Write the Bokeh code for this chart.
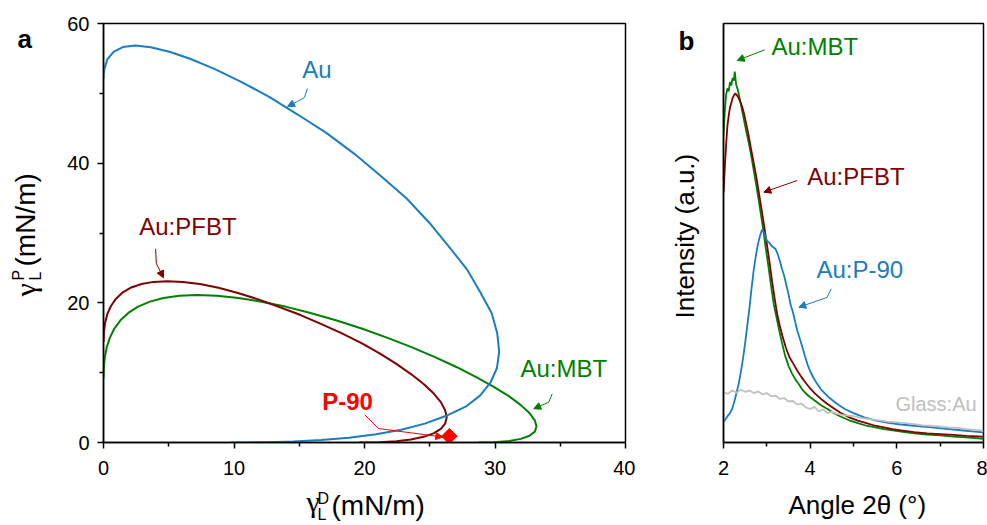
import numpy as np
from bokeh.plotting import figure
from bokeh.models import Range1d, FixedTicker, Label, Arrow, NormalHead
from bokeh.layouts import row, column
from bokeh.core.properties import value
from bokeh.embed import file_html
from bokeh.resources import INLINE

# ---------------- Panel a : wetting envelopes ----------------
au_x = [9.73, 11.18, 12.42, 14.55, 16.69, 18.82, 20.88, 22.83, 24.62, 26.22, 27.75, 28.85,
        29.65, 30.15, 30.32, 30.17, 29.75, 28.85, 27.85, 26.45, 25.0, 23.25, 21.3, 19.25,
        17.1, 14.85, 12.7, 10.55, 8.5, 6.63, 5.05, 3.62, 2.43, 1.48, 0.77, 0.29, 0.046,
        0.007, 0.0]
au_y = [0.0, 0.01, 0.04, 0.15, 0.36, 0.69, 1.17, 1.83, 2.70, 3.79, 5.13, 6.71,
        8.56, 10.67, 13.02, 15.65, 18.5, 21.6, 24.8, 28.1, 31.4, 34.9, 38.1, 41.3,
        44.3, 47.0, 49.5, 51.65, 53.5, 54.95, 55.95, 56.6, 56.85, 56.63, 55.95, 54.85, 53.33,
        52.6, 52.1]

pfbt_x = [19.59, 21.17, 22.44, 23.56, 24.53, 25.29, 25.85, 26.18, 26.30, 26.18, 25.85, 25.29,
          24.53, 23.56, 22.44, 21.16, 19.77, 18.27, 16.70, 15.10, 13.47, 11.87, 10.30, 8.81,
          7.39, 6.09, 4.90, 3.84, 2.91, 2.13, 1.48, 0.96, 0.57, 0.29, 0.115, 0.023, 0.0]
pfbt_y = [0.0, 0.05, 0.19, 0.44, 0.81, 1.31, 1.94, 2.70, 3.60, 4.63, 5.78, 7.04,
          8.38, 9.80, 11.26, 12.75, 14.22, 15.62, 16.95, 18.25, 19.4, 20.5, 21.4, 22.15,
          22.7, 23.0, 23.1, 23.0, 22.7, 22.2, 21.5, 20.6, 19.55, 18.37, 17.06, 15.67, 14.40]

mbt_x = [28.74, 29.94, 31.09, 31.98, 32.64, 33.05, 33.18, 33.05, 32.64, 31.98, 31.09, 29.94,
         28.60, 27.08, 25.40, 23.60, 21.72, 19.78, 17.81, 15.86, 13.94, 12.09, 10.35, 8.69,
         7.19, 5.82, 4.60, 3.55, 2.65, 1.90, 1.30, 0.83, 0.49, 0.25, 0.103, 0.025, 0.0]
mbt_y = [0.0, 0.05, 0.21, 0.52, 0.96, 1.56, 2.30, 3.18, 4.21, 5.35, 6.60, 7.94,
         9.34, 10.78, 12.23, 13.65, 15.02, 16.32, 17.50, 18.55, 19.46, 20.17, 20.70, 21.02,
         21.13, 21.02, 20.70, 20.17, 19.46, 18.55, 17.50, 16.32, 15.02, 13.65, 12.23, 10.78, 9.20]

p90_x = [26.5]
p90_y = [0.9]

a_xticks = [0, 10, 20, 30, 40]
a_xminor = [5, 15, 25, 35]
a_yticks = [0, 20, 40, 60]
a_yminor = [10, 30, 50]

# ---------------- Panel b : XRD ----------------
mbt2_x = [2.00, 2.03, 2.06, 2.09, 2.12, 2.15, 2.18, 2.21, 2.24, 2.26, 2.29, 2.33, 2.38, 2.44,
          2.50, 2.56, 2.62, 2.68, 2.74, 2.80, 2.86, 2.92, 2.98, 3.04, 3.10, 3.16, 3.22, 3.28,
          3.35, 3.42, 3.50, 3.58, 3.66, 3.74, 3.82, 3.90, 4.00, 4.12, 4.25, 4.40, 4.55, 4.70,
          4.90, 5.10, 5.30, 5.50, 5.70, 5.90, 6.10, 6.40, 6.70, 7.00, 7.30, 7.60, 8.00]
mbt2_y = [73.3, 79.0, 83.0, 84.5, 83.8, 86.0, 85.2, 87.0, 86.4, 88.5, 85.5, 84.2, 81.8, 78.6,
          75.5, 72.6, 69.6, 66.0, 62.4, 58.6, 54.6, 50.6, 46.0, 41.8, 37.2, 33.0, 30.0, 27.0,
          23.8, 20.8, 18.3, 16.5, 15.0, 13.9, 12.6, 11.7, 10.8, 9.9, 8.9, 8.0, 7.0, 6.2,
          5.3, 4.6, 4.0, 3.6, 3.2, 2.9, 2.6, 2.2, 1.9, 1.7, 1.4, 1.2, 0.9]

pfbt2_x = [2.00, 2.03, 2.06, 2.09, 2.12, 2.15, 2.18, 2.21, 2.24, 2.27, 2.30, 2.34, 2.38, 2.43,
           2.48, 2.53, 2.58, 2.64, 2.70, 2.76, 2.82, 2.88, 2.94, 3.00, 3.06, 3.12, 3.18, 3.24,
           3.30, 3.36, 3.44, 3.52, 3.60, 3.70, 3.80, 3.90, 4.00, 4.12, 4.25, 4.40, 4.55, 4.70,
           4.90, 5.10, 5.30, 5.50, 5.70, 5.90, 6.10, 6.40, 6.70, 7.00, 7.30, 7.60, 8.00]
pfbt2_y = [59.7, 65.5, 71.0, 75.5, 78.0, 80.0, 81.0, 82.2, 82.8, 83.3, 83.0, 82.4, 81.5, 80.2,
           78.2, 75.8, 73.3, 69.8, 66.6, 63.2, 59.4, 55.6, 51.6, 47.4, 43.2, 38.6, 34.4, 30.6,
           27.8, 25.4, 22.6, 20.4, 19.0, 17.2, 15.6, 14.2, 12.9, 11.6, 10.4, 9.2, 8.1, 7.1,
           6.0, 5.2, 4.6, 4.0, 3.6, 3.2, 2.9, 2.5, 2.2, 2.0, 1.8, 1.6, 1.4]

p902_x = [2.00, 2.05, 2.10, 2.15, 2.20, 2.25, 2.30, 2.35, 2.40, 2.45, 2.50, 2.55, 2.60, 2.65,
          2.70, 2.75, 2.80, 2.85, 2.89, 2.93, 2.97, 3.01, 3.05, 3.10, 3.15, 3.20, 3.25, 3.30,
          3.35, 3.40, 3.45, 3.50, 3.55, 3.60, 3.65, 3.70, 3.76, 3.82, 3.88, 3.94, 4.00, 4.08,
          4.16, 4.25, 4.35, 4.45, 4.55, 4.65, 4.80, 5.00, 5.25, 5.50, 5.80, 6.10, 6.40, 6.80,
          7.20, 7.60, 8.00]
p902_y = [4.9, 5.6, 6.4, 7.0, 8.0, 9.8, 11.8, 14.0, 16.8, 20.0, 23.8, 28.0, 32.2, 37.0,
          41.4, 44.8, 47.6, 49.6, 50.8, 50.2, 49.0, 48.0, 47.8, 47.0, 46.6, 46.2, 45.0, 43.4,
          41.4, 39.8, 37.6, 35.4, 32.8, 31.2, 29.0, 26.8, 24.8, 22.8, 20.6, 18.6, 17.0, 15.4,
          14.0, 12.7, 11.6, 10.6, 9.8, 9.0, 8.0, 7.0, 6.0, 5.3, 4.7, 4.3, 4.0, 3.6,
          3.2, 2.8, 2.4]

glass_x = [2.00, 2.10, 2.20, 2.30, 2.40, 2.50, 2.60, 2.70, 2.80, 2.90, 3.00, 3.10, 3.20, 3.30,
           3.40, 3.50, 3.60, 3.70, 3.80, 3.90, 4.00, 4.10, 4.20, 4.30, 4.40, 4.50, 4.60, 4.80,
           5.00, 5.20, 5.40, 5.60, 5.80, 6.00, 6.20, 6.40, 6.60, 6.80, 7.00, 7.20, 7.40, 7.60,
           7.80, 8.00]
glass_y = [12.0, 11.6, 12.4, 11.9, 12.6, 12.1, 12.4, 11.8, 12.2, 11.5, 11.8, 11.0, 11.2, 10.4,
           10.6, 9.8, 9.9, 9.1, 9.3, 8.4, 8.0, 8.5, 7.4, 7.9, 7.0, 7.3, 6.9, 6.5,
           6.3, 5.8, 5.5, 5.3, 5.0, 4.8, 4.6, 4.4, 4.1, 4.0, 3.8, 3.6, 3.5, 3.2,
           3.0, 2.8]

b_xticks = [2, 4, 6, 8]
b_xminor = [3, 5, 7]

BLUE = "#1a7dc0"
MAROON = "#800000"
GREEN = "#008000"
GRAY = "#c0c0c0"
RED = "#ff0000"
FONT = "Liberation Sans"
GFONT = "Liberation Serif"
R90 = np.pi / 2
BASE = 0.38  # empirical shift of the alphabetic baseline, in em


def style(p):
    p.outline_line_color = "black"
    p.outline_line_width = 1.5
    p.xgrid.grid_line_color = None
    p.ygrid.grid_line_color = None
    p.background_fill_color = "white"
    p.border_fill_color = "white"
    for ax in (p.xaxis[0], p.yaxis[0]):
        ax.axis_line_color = "black"
        ax.axis_line_width = 1.5
        ax.major_tick_line_color = "black"
        ax.major_tick_line_width = 1.5
        ax.minor_tick_line_color = "black"
        ax.minor_tick_line_width = 1.5
        ax.major_tick_out = 6
        ax.major_tick_in = 0
        ax.minor_tick_out = 4
        ax.minor_tick_in = 0
        ax.major_label_text_font = FONT
        ax.major_label_text_font_size = "20px"
        ax.major_label_text_color = "black"
    p.yaxis[0].major_label_standoff = 8
    p.xaxis[0].major_label_standoff = 12


# pixel -> data maps of the two frames
def pa_xy(px, py):
    return (px - 103) / 13.05, (442 - py) / 6.983


def pb_xy(px, py):
    return 2 + (px - 723) / 43.333, (442 - py) / 4.19


def lab(p, conv, px, py, text, fs, color="black", font=FONT, style_="normal"):
    x, y = conv(px, py - BASE * fs)
    p.add_layout(Label(x=x, y=y, text=text, text_font=font, text_font_size=f"{fs}px",
                       text_color=color, text_font_style=style_,
                       text_align="left", text_baseline="alphabetic"))


def arrow(p, xs, ys, color, size=7):
    if len(xs) > 2:
        p.line(xs[:-1], ys[:-1], line_color=color, line_width=1)
    p.add_layout(Arrow(end=NormalHead(size=size, fill_color=color, line_color=color),
                       x_start=xs[-2], y_start=ys[-2], x_end=xs[-1], y_end=ys[-1],
                       line_color=color, line_width=1))


def strip(w, h, xr, yr):
    s = figure(width=w, height=h, x_range=Range1d(*xr), y_range=Range1d(*yr),
               x_axis_type=None, y_axis_type=None, output_backend="svg", toolbar_location=None,
               min_border=0, title=None)
    s.outline_line_color = None
    s.xgrid.grid_line_color = None
    s.ygrid.grid_line_color = None
    s.background_fill_color = "white"
    s.border_fill_color = "white"
    return s


def txt(s, px, py, text, fs, font=FONT, style_="normal", rotated=False, color="black"):
    if rotated:
        px = px - BASE * fs
    else:
        py = py - BASE * fs
    s.text(x=[px], y=[-py], text=[text], text_font=value(font), text_font_size=value(f"{fs}px"),
           text_font_style=style_, text_color=color, angle=R90 if rotated else 0.0,
           text_align="left", text_baseline="alphabetic")


# ---------------- figure a ----------------
pa = figure(frame_width=522, frame_height=419, x_range=Range1d(0, 40), y_range=Range1d(0, 60),
            output_backend="svg", toolbar_location=None, title=None,
            min_border_left=50, min_border_right=10, min_border_top=23, min_border_bottom=44)
style(pa)
pa.xaxis.ticker = FixedTicker(ticks=a_xticks, minor_ticks=a_xminor)
pa.yaxis.ticker = FixedTicker(ticks=a_yticks, minor_ticks=a_yminor)

pa.line(mbt_x, mbt_y, line_color=GREEN, line_width=2)
pa.line(pfbt_x, pfbt_y, line_color=MAROON, line_width=2)
pa.line(au_x, au_y, line_color=BLUE, line_width=2)

arrow(pa, [20.02, 21.07, 26.0], [3.97, 2.00, 0.78], RED)
pa.scatter(p90_x, p90_y, marker="square", angle=np.pi / 4, size=11, fill_color=RED, line_color=RED)

lab(pa, pa_xy, 301.7, 78, "Au", 24, BLUE)
arrow(pa, [15.63, 15.40, 14.87, 14.10], [50.69, 49.41, 48.83, 48.12], BLUE)
lab(pa, pa_xy, 138.7, 235, "Au:PFBT", 24, MAROON)
arrow(pa, [3.99, 4.05, 4.60], [27.74, 25.63, 23.58], MAROON)
lab(pa, pa_xy, 520, 376.7, "Au:MBT", 24, GREEN)
arrow(pa, [34.38, 34.12, 32.97], [6.97, 5.77, 4.83], GREEN)
lab(pa, pa_xy, 321.7, 410, "P-90", 24, RED, style_="bold")

# left strip of panel a (page pixels): panel letter + rotated y label
ya = strip(53, 525, (0, 53), (-525, 0))
txt(ya, 17, 48, "a", 26, style_="bold")
txt(ya, 36, 296, "γ", 30, font=GFONT, rotated=True)
txt(ya, 41, 280, "L", 16, rotated=True)
txt(ya, 24, 280, "P", 16, rotated=True)
txt(ya, 36, 266, "(mN/m)", 28, rotated=True)

# bottom strip of panel a: its frame is aligned with the frame of panel a (x 103..625)
xa = strip(582, 39, (103, 625), (-525, -486))
txt(xa, 306, 512, "γ", 30, font=GFONT)
txt(xa, 317, 504, "D", 16)
txt(xa, 317, 520, "L", 16)
txt(xa, 331, 516, "(mN/m)", 28)

# ---------------- figure b ----------------
pb = figure(frame_width=260, frame_height=419, x_range=Range1d(2, 8), y_range=Range1d(0, 100),
            output_backend="svg", toolbar_location=None, title=None,
            min_border_left=20, min_border_right=4, min_border_top=23, min_border_bottom=44)
style(pb)
pb.xaxis.ticker = FixedTicker(ticks=b_xticks, minor_ticks=b_xminor)
pb.yaxis.ticker = FixedTicker(ticks=[], minor_ticks=[])
pb.yaxis.major_label_text_font_size = "0px"

pb.line(mbt2_x, mbt2_y, line_color=GREEN, line_width=1.8)
pb.line(pfbt2_x, pfbt2_y, line_color=MAROON, line_width=1.8)
pb.line(p902_x, p902_y, line_color=BLUE, line_width=1.8)
pb.line(glass_x, glass_y, line_color=GRAY, line_width=1.8)

lab(pb, pb_xy, 771, 55, "Au:MBT", 24, GREEN)
arrow(pb, [2.953, 2.316], [93.72, 91.17], GREEN)
lab(pb, pb_xy, 806.7, 185, "Au:PFBT", 24, MAROON)
arrow(pb, [3.701, 2.930], [62.53, 59.74], MAROON)
lab(pb, pb_xy, 816, 278, "Au:P-90", 24, BLUE)
arrow(pb, [4.486, 4.389, 3.738], [36.68, 34.61, 32.29], BLUE)
lab(pb, pb_xy, 895, 411, "Glass:Au", 20, GRAY)

yb = strip(68, 525, (635, 703), (-525, 0))
txt(yb, 678, 50, "b", 26, style_="bold")
txt(yb, 694, 318, "Intensity (a.u.)", 26, rotated=True)

xb = strip(284, 39, (723, 983), (-525, -486))
txt(xb, 788, 514, "Angle 2θ (°)", 26)

layout = row(ya, column(pa, xa), yb, column(pb, xb))
open("out.html", "w").write(file_html(layout, INLINE))
